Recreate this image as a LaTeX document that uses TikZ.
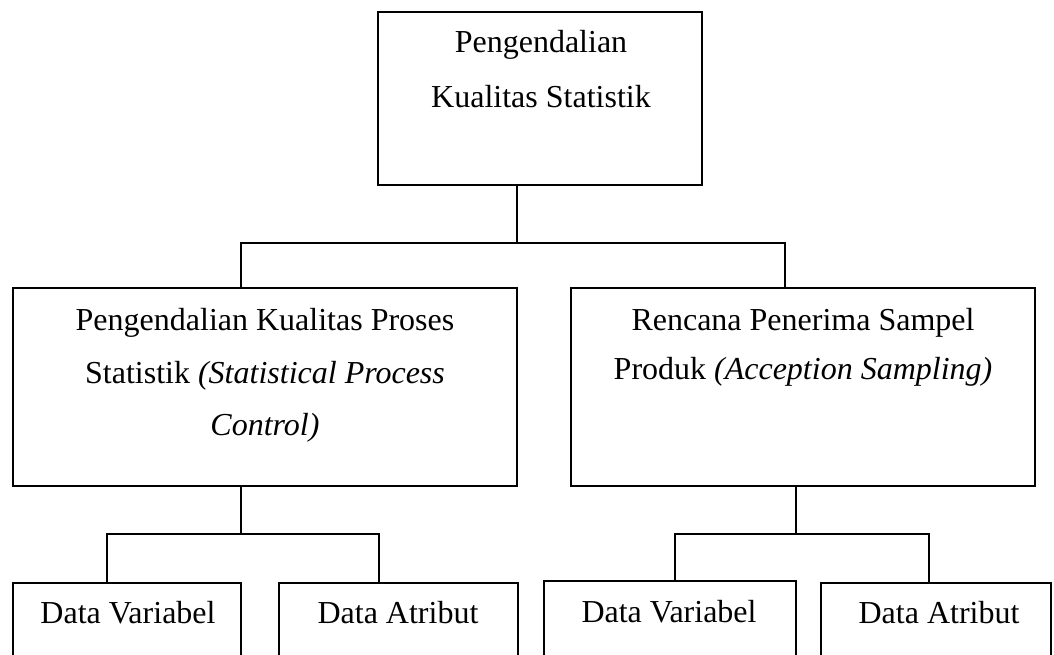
\documentclass[tikz,border=0pt]{standalone}
\usepackage{fontspec}
\setmainfont{Liberation Serif}
\begin{document}
\begin{tikzpicture}[x=1pt,y=-1pt,
  box/.style={draw, line width=1.4pt, rectangle, inner sep=0pt, anchor=center},
  lbl/.style={anchor=base, inner sep=0pt, font=\fontsize{32}{38}\selectfont},
  conn/.style={line width=1.4pt}]
\useasboundingbox (0,0) rectangle (1054,654);
\clip (0,0) rectangle (1054,654);
% boxes
\node[box, minimum width=324pt, minimum height=173pt] (top) at (540,98.5) {};
\node[box, minimum width=504pt, minimum height=198pt] (lm) at (265,387) {};
\node[box, minimum width=464pt, minimum height=198pt] (rm) at (803,387) {};
\node[box, minimum width=228pt, minimum height=120pt] (b1) at (127,643) {};
\node[box, minimum width=239pt, minimum height=120pt] (b2) at (398.5,643) {};
\node[box, minimum width=252pt, minimum height=124pt] (b3) at (670,643) {};
\node[box, minimum width=230pt, minimum height=120pt] (b4) at (936,643) {};
% texts
\node[lbl] (t1) at (541,52) {Pengendalian};
\node[lbl] (t2) at (541,107) {Kualitas Statistik};
\node[lbl] (l1) at (265,330) {Pengendalian Kualitas Proses};
\node[lbl] (l2) at (265,383) {Statistik \textit{(Statistical Process}};
\node[lbl] (l3) at (265,435) {\textit{Control)}};
\node[lbl] (r1) at (803,330) {Rencana Penerima Sampel};
\node[lbl] (r2) at (803,379) {Produk \textit{(Acception Sampling)}};
\node[lbl] (d1) at (128,623) {Data Variabel};
\node[lbl] (d2) at (398,623) {Data Atribut};
\node[lbl] (d3) at (669,622) {Data Variabel};
\node[lbl] (d4) at (939,623) {Data Atribut};
% junction coordinates
\coordinate (ja) at (517,243);
\coordinate (jl) at (241,243);
\coordinate (jr) at (785,243);
\coordinate (ka) at (241,534);
\coordinate (kl) at (107,534);
\coordinate (kr) at (379,534);
\coordinate (ma) at (796,534);
\coordinate (ml) at (675,534);
\coordinate (mr) at (929,534);
% connectors
\draw[conn] (top.south -| ja) -- (ja);
\draw[conn] (lm.north -| jl) -- (jl) -- (jr) -- (rm.north -| jr);
\draw[conn] (lm.south -| ka) -- (ka);
\draw[conn] (b1.north -| kl) -- (kl) -- (kr) -- (b2.north -| kr);
\draw[conn] (rm.south -| ma) -- (ma);
\draw[conn] (b3.north -| ml) -- (ml) -- (mr) -- (b4.north -| mr);
\end{tikzpicture}
\end{document}
